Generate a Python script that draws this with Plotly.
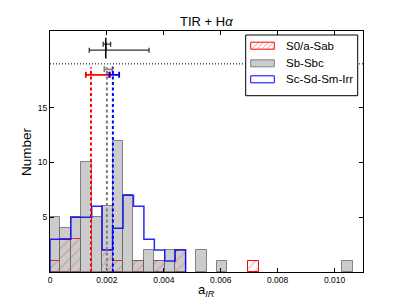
import plotly.graph_objects as go

# ---------------- data ----------------
BIN_START = 0.0
BIN_WIDTH = 0.011 / 30
N_BINS = 30

counts_s0a = [1, 3, 3, 0, 0, 2, 1, 0, 1, 0, 1, 0, 2, 0, 0, 0, 0, 0, 0, 1,
              0, 0, 0, 0, 0, 0, 0, 0, 0, 0]
counts_sb = [5, 4, 5, 10, 5, 6, 12, 7, 1, 2, 1, 2, 2, 0, 2, 0, 1, 0, 0, 0,
             0, 0, 0, 0, 0, 0, 0, 0, 1, 0]
counts_sc = [3, 3, 5, 5, 6, 2, 4, 7, 6, 3, 2, 1, 2]

series_names = ["S0/a-Sab", "Sb-Sbc", "Sc-Sd-Sm-Irr"]
means = [0.00144, 0.00200, 0.00221]          # dashed lines
err_lo = [0.00126, 0.00191, 0.00208]         # error bar left ends
err_hi = [0.00211, 0.00220, 0.00243]         # error bar right ends
err_y = [18.0, 18.5, 18.0]

black_x = [0.00196, 0.00196]
black_y = [20.25, 20.8]
black_lo = [0.00138, 0.00187]
black_hi = [0.00348, 0.00213]

dotted_y = 19
x_ticks = [0, 0.002, 0.004, 0.006, 0.008, 0.010]
x_ticklabels = ["0", "0.002", "0.004", "0.006", "0.008", "0.010"]
y_ticks = [5, 10, 15]
X_RANGE = [0, 0.011]
Y_RANGE = [0, 22]

# ---------------- figure ----------------
edges = [BIN_START + i * BIN_WIDTH for i in range(N_BINS + 1)]
centers = [BIN_START + (i + 0.5) * BIN_WIDTH for i in range(N_BINS)]

FONT = "Liberation Sans, Arial, sans-serif"
fig = go.Figure()

# red hatched bars
fig.add_trace(go.Bar(
    x=centers, y=[c if c > 0 else None for c in counts_s0a], width=BIN_WIDTH,
    marker=dict(color="rgba(255,255,255,0)",
                line=dict(color="rgba(255,0,0,1)", width=1),
                pattern=dict(shape="/", fgcolor="rgba(255,60,60,0.7)",
                             bgcolor="rgba(0,0,0,0)", size=7, solidity=0.2)),
    showlegend=False, hoverinfo="skip"))

# gray bars on top
fig.add_trace(go.Bar(
    x=centers, y=[c if c > 0 else None for c in counts_sb], width=BIN_WIDTH,
    marker=dict(color="rgba(128,128,128,0.4)",
                line=dict(color="rgba(105,105,105,0.8)", width=1)),
    showlegend=False, hoverinfo="skip"))

# blue step outline
sx = [edges[0]] + edges[:len(counts_sc) + 1]
sy = [0] + counts_sc + [0]
fig.add_trace(go.Scatter(x=sx, y=sy, mode="lines", line_shape="hv",
                         line=dict(color="rgba(0,0,255,0.85)", width=1.5),
                         showlegend=False, hoverinfo="skip"))

colors = ["red", "gray", "blue"]
# dashed mean lines (up to 85% of the axis height)
for m, c in zip(means, colors):
    fig.add_shape(type="line", x0=m, x1=m, xref="x", yref="y",
                  y0=0, y1=0.85 * Y_RANGE[1],
                  line=dict(color=c, width=2, dash="3px,2.5px"))

# coloured error bars
for m, lo, hi, yy, c in zip(means, err_lo, err_hi, err_y, colors):
    fig.add_trace(go.Scatter(
        x=[m], y=[yy], mode="markers",
        marker=dict(symbol="line-ns", size=1, color=c, line=dict(color=c, width=0)),
        error_x=dict(type="data", symmetric=False, array=[hi - m], arrayminus=[m - lo],
                     color=c, thickness=1.8, width=3),
        showlegend=False, hoverinfo="skip"))

# black error bars
for bx, by, lo, hi, ms in zip(black_x, black_y, black_lo, black_hi, [12, 9]):
    fig.add_trace(go.Scatter(
        x=[bx], y=[by], mode="markers",
        marker=dict(symbol="line-ns", size=ms, color="black",
                    line=dict(color="black", width=1.5)),
        error_x=dict(type="data", symmetric=False, array=[hi - bx], arrayminus=[bx - lo],
                     color="#333333", thickness=1.3, width=2.5),
        showlegend=False, hoverinfo="skip"))

# dotted horizontal line
fig.add_shape(type="line", xref="paper", yref="y", x0=0, x1=1, y0=dotted_y, y1=dotted_y,
              line=dict(color="black", width=1, dash="1px,2px"))

# ---------------- manual legend ----------------
L, T, W, H = 50, 31, 313, 241
def px(x): return (x - L) / W
def py(y): return (T + H - y) / H

fig.add_shape(type="rect", xref="paper", yref="paper",
              x0=px(245.7), x1=px(357.7), y0=py(95.7), y1=py(35),
              line=dict(color="black", width=1), fillcolor="white")
rows = [45.7, 63.3, 79.3]
patch_x0, patch_x1 = 250.7, 274.3
# red hatched patch
fig.add_shape(type="rect", xref="paper", yref="paper",
              x0=px(patch_x0), x1=px(patch_x1), y0=py(rows[0] + 3.5), y1=py(rows[0] - 3.5),
              line=dict(color="red", width=1), fillcolor="white")
for k in range(5):
    xa = patch_x0 + 1.5 + k * 5
    xb = min(xa + 6, patch_x1 - 0.5)
    fig.add_shape(type="line", xref="paper", yref="paper",
                  x0=px(xa), x1=px(xb),
                  y0=py(rows[0] + 3), y1=py(rows[0] + 3 - (xb - xa)),
                  line=dict(color="rgba(255,0,0,0.4)", width=1))
fig.add_shape(type="rect", xref="paper", yref="paper",
              x0=px(patch_x0), x1=px(patch_x1), y0=py(rows[1] + 3.5), y1=py(rows[1] - 3.5),
              line=dict(color="rgba(105,105,105,0.8)", width=1), fillcolor="rgba(128,128,128,0.4)")
fig.add_shape(type="rect", xref="paper", yref="paper",
              x0=px(patch_x0), x1=px(patch_x1), y0=py(rows[2] + 3.5), y1=py(rows[2] - 3.5),
              line=dict(color="blue", width=1), fillcolor="white")
for name, r in zip(series_names, rows):
    fig.add_annotation(text=name, xref="paper", yref="paper", x=px(284), y=py(r),
                       xanchor="left", yanchor="middle", showarrow=False,
                       font=dict(family=FONT, size=11.5, color="black"))

# axis labels and title
fig.add_annotation(text="TIR + H<i>α</i>", xref="paper", yref="paper", x=0.5, y=py(21.5),
                   xanchor="center", yanchor="middle", showarrow=False,
                   font=dict(family=FONT, size=13, color="black"))
fig.add_annotation(text="a<sub><i>IR</i></sub>", xref="paper", yref="paper", x=0.5, y=py(290),
                   xanchor="center", yanchor="middle", showarrow=False,
                   font=dict(family=FONT, size=13, color="black"))
fig.add_annotation(text="Number", xref="paper", yref="paper", x=px(26.5), y=0.5,
                   xanchor="center", yanchor="middle", textangle=-90, showarrow=False,
                   font=dict(family=FONT, size=13.5, color="black"))

axis_common = dict(showgrid=False, zeroline=False, showline=True, linecolor="black",
                   linewidth=1, mirror="allticks", ticks="inside", ticklen=4,
                   tickcolor="black", tickfont=dict(family=FONT, size=8.5, color="black"))
fig.update_xaxes(range=X_RANGE, tickvals=x_ticks, ticktext=x_ticklabels, **axis_common)
fig.update_yaxes(range=Y_RANGE, tickvals=y_ticks, ticktext=[str(v) for v in y_ticks],
                 **axis_common)

fig.update_layout(width=403, height=303, autosize=False, barmode="overlay", bargap=0,
                  margin=dict(l=L, r=403 - L - W, t=T, b=303 - T - H, autoexpand=False),
                  plot_bgcolor="white", paper_bgcolor="white", showlegend=False)

fig.write_html("out.html", config={"displayModeBar": False},
               post_script="document.body.style.margin='0';document.body.style.padding='0';")
